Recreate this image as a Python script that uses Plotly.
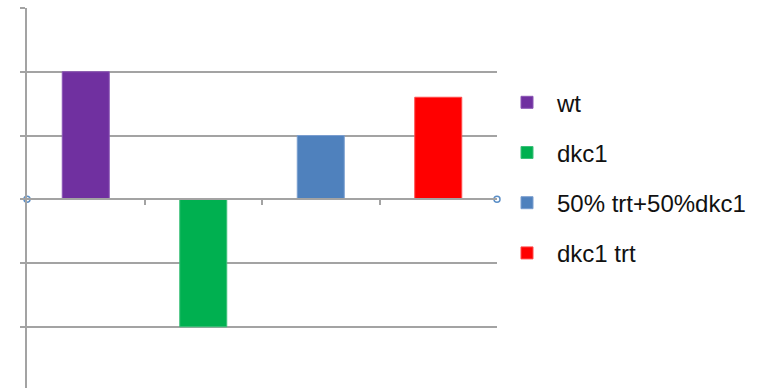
import plotly.graph_objects as go

# Relative change per sample group
categories = ["wt", "dkc1", "50% trt+50%dkc1", "dkc1 trt"]
values = [2.0, -2.0, 1.0, 1.6]
colors = ["#7030A0", "#00B050", "#4F81BD", "#FF0000"]
edge_colors = ["#8A55B5", "#3CC07A", "#7A9ECF", "#FF4A4A"]

y_ticks = [-2, -1, 0, 1, 2, 3]
y_range = [-2.96, 3.0]

x_pos = list(range(len(categories)))
x_edges = [-0.5, len(categories) - 0.5]
x_boundaries = [i + 0.5 for i in range(len(categories) - 1)]

GRID = "#A3A3A3"

fig = go.Figure()

for i, (name, val) in enumerate(zip(categories, values)):
    fig.add_trace(go.Bar(
        x=[x_pos[i]], y=[val], name=name,
        width=0.4,
        marker=dict(color=colors[i], line=dict(color=edge_colors[i], width=1)),
        legendgroup=f"g{i}",
        hoverinfo="name+y",
    ))

# small end markers on the category axis
fig.add_trace(go.Scatter(
    x=x_edges, y=[0, 0], mode="markers", showlegend=False, hoverinfo="skip",
    cliponaxis=False,
    marker=dict(symbol="circle-open", size=6, color="#5B8FC7", line=dict(width=1.5)),
))

fig.update_layout(
    width=780, height=388,
    margin=dict(l=27, r=283, t=8, b=0),
    paper_bgcolor="white", plot_bgcolor="white",
    barmode="overlay",
    showlegend=True,
    legend=dict(
        x=1.0, xanchor="left", y=0.81, yanchor="top",
        font=dict(family="Liberation Sans, Arial, sans-serif", size=24, color="#111111"),
        itemwidth=50, traceorder="grouped", tracegroupgap=16,
        bgcolor="rgba(0,0,0,0)", borderwidth=0,
    ),
    xaxis=dict(
        range=[x_edges[0], x_edges[1]],
        showgrid=False, zeroline=False,
        showline=True, linecolor=GRID, linewidth=1.5,
        anchor="free", position=(0 - y_range[0]) / (y_range[1] - y_range[0]),
        tickmode="array", tickvals=x_boundaries, ticks="outside", ticklen=5,
        tickcolor=GRID, tickwidth=1.5, showticklabels=False, fixedrange=True,
    ),
    yaxis=dict(
        range=y_range,
        tickmode="array", tickvals=y_ticks, showticklabels=False,
        showgrid=True, gridcolor=GRID, gridwidth=1.5,
        zeroline=False,
        showline=True, linecolor=GRID, linewidth=1.5,
        ticks="outside", ticklen=5, tickcolor=GRID, tickwidth=1.5,
        fixedrange=True,
    ),
)

fig.write_html("out.html")
